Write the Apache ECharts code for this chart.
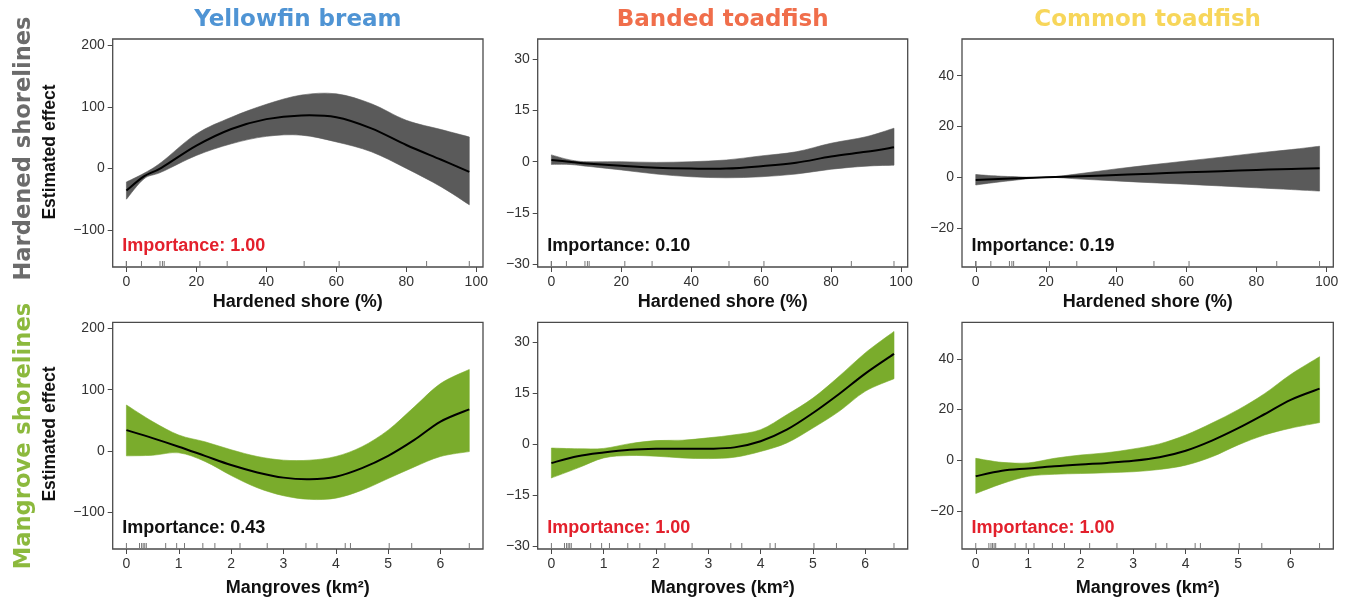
<!DOCTYPE html>
<html><head><meta charset="utf-8">
<script src="https://cdn.jsdelivr.net/npm/echarts@6/dist/echarts.min.js"></script>
<style>html,body{margin:0;padding:0;background:#fff}#c{width:1349px;height:599px}</style>
</head><body><div id="c"></div>
<script>
// ---------- DATA ----------
const species = ['Yellowfin bream', 'Banded toadfish', 'Common toadfish'];
const rowLabels = ['Hardened shorelines', 'Mangrove shorelines'];
const xTitles = ['Hardened shore (%)', 'Mangroves (km\u00B2)'];
const yTitle = 'Estimated effect';
const importance = [['Importance: 1.00', 'Importance: 0.10', 'Importance: 0.19'],
                    ['Importance: 0.43', 'Importance: 1.00', 'Importance: 1.00']];
const importanceRed = [[true, false, false], [false, true, true]];

const xTicksHard = [0, 20, 40, 60, 80, 100];
const xTicksMang = [0, 1, 2, 3, 4, 5, 6];
const yTicksCol = [[-100, 0, 100, 200], [-30, -15, 0, 15, 30], [-20, 0, 20, 40]];

const hardX = [0, 5, 10, 20, 30, 40, 50, 60, 70, 80, 90, 98];
const mangX = [0, 0.5, 1, 1.5, 2, 2.5, 3, 3.5, 4, 4.5, 5, 5.5, 6, 6.55];

// Hardened shore, Yellowfin bream
const hYbFit   = [-36, -13, 1, 37, 64, 80, 86, 83, 65, 38, 14, -5.5];
const hYbUpper = [-22, -8, 10, 56, 83, 104, 119, 121, 105, 78, 63, 51];
const hYbLower = [-50, -17, -6, 21, 40, 52, 54, 43, 27, 0, -30, -59];
// Hardened shore, Banded toadfish
const hBtFit   = [0.5, 0, -0.5, -1.2, -1.8, -2, -2, -1.3, -0.3, 1.5, 2.9, 4.2];
const hBtUpper = [2, 0.6, 0, 0, -0.2, 0, 0.5, 1.7, 2.9, 5.4, 7.3, 9.8];
const hBtLower = [-0.8, -0.8, -1.3, -2.4, -3.6, -4.4, -4.7, -4.4, -3.6, -2.2, -1.3, -1];
// Hardened shore, Common toadfish
const hCtFit   = [-0.9, -0.65, -0.4, 0.1, 0.5, 1.0, 1.5, 2.1, 2.5, 3.0, 3.4, 3.7];
const hCtUpper = [1.2, 0.7, 0.4, 0.1, 1.6, 3.4, 5.0, 6.5, 8.0, 9.6, 11.0, 12.3];
const hCtLower = [-2.9, -2.0, -1.2, 0.1, -0.6, -1.3, -2.0, -2.6, -3.3, -4.0, -4.7, -5.3];
// Mangroves, Yellowfin bream
const mYbFit   = [34, 21, 7, -8, -23, -35, -43.5, -46, -42, -28, -8, 18, 48, 68];
const mYbUpper = [75, 48, 26, 15, 2, -9, -15, -15, -9, 7, 34, 72, 110, 133];
const mYbLower = [-8, -7, -3, -17, -40, -60, -73, -79, -77, -64, -45, -26, -9, -1];
// Mangroves, Banded toadfish
const mBtFit   = [-5.5, -3.5, -2.4, -1.6, -1.3, -1.3, -1.3, -0.9, 0.9, 4.3, 9.2, 14.8, 20.8, 26.6];
const mBtUpper = [-1.1, -1.3, -1.2, 0.2, 1.1, 1.2, 1.9, 2.8, 4.3, 8.7, 13.6, 20, 26.9, 33.2];
const mBtLower = [-9.9, -7, -4, -3.3, -3.5, -4, -4.2, -3.8, -2.1, 0.4, 4.8, 9.7, 15.6, 19.3];
// Mangroves, Common toadfish
const mCtFit   = [-6.4, -4.2, -3.3, -2.4, -1.7, -1.1, -0.3, 1.1, 3.7, 7.7, 12.6, 18.1, 23.8, 28.2];
const mCtUpper = [0.7, -0.9, -1.1, 0.7, 2, 2.9, 4.4, 6.4, 9.9, 14.6, 19.9, 26.2, 33.8, 40.8];
const mCtLower = [-13.2, -9.3, -6.4, -5.6, -5.3, -5.0, -4.6, -3.7, -2.0, 1.3, 6.0, 9.9, 12.6, 14.8];

// rug (observed predictor values)
const rugHard = [0, 0, 0, 4.3, 9.6, 10.3, 10.8, 21, 28.8, 50.8, 60.8, 85.8, 98];
const rugMang = [0, 0.25, 0.29, 0.32, 0.35, 0.38, 0.75, 0.96, 1.11, 1.46, 1.69, 2.17, 2.69, 3.43, 3.64, 4.18, 4.28, 5.02, 5.45, 6.55];

// ---------- STYLE / LAYOUT ----------
const titleColors = ['#4f94d4', '#f06e4b', '#f7d65a'];
const rowColors = ['#6b6b6b', '#8cb93d'];
const bandColors = ['#5a5a5a', '#7aac2c'];
const redText = '#e3202c';
const colLeft = [112.7, 537.7, 962];
const colWidth = [370.3, 370, 371.3];
const rowTop = [39, 322.3];
const rowHeight = [228, 226.7];
const xRange = [[-3.92, 101.92], [-0.262, 6.812]];
const yRange = [[-160, 210], [-30.8, 35.9], [-35.1, 54.4]];
const font = 'Liberation Sans, Arial, Helvetica, sans-serif';
const boxColor = '#4a4a4a';

const panels = [
  [[hardX, hYbFit, hYbUpper, hYbLower], [hardX, hBtFit, hBtUpper, hBtLower], [hardX, hCtFit, hCtUpper, hCtLower]],
  [[mangX, mYbFit, mYbUpper, mYbLower], [mangX, mBtFit, mBtUpper, mBtLower], [mangX, mCtFit, mCtUpper, mCtLower]]
];
const rugs = [rugHard, rugMang];
const xTicks = [xTicksHard, xTicksMang];
const minus = v => String(v).replace('-', '\u2212');

// Catmull-Rom smoothing of pixel points into cubic bezier path commands
function curveSegs(pts) {
  let d = '';
  const n = pts.length;
  for (let i = 0; i < n - 1; i++) {
    const p0 = pts[Math.max(i - 1, 0)], p1 = pts[i], p2 = pts[i + 1], p3 = pts[Math.min(i + 2, n - 1)];
    const c1 = [p1[0] + (p2[0] - p0[0]) / 6, p1[1] + (p2[1] - p0[1]) / 6];
    const c2 = [p2[0] - (p3[0] - p1[0]) / 6, p2[1] - (p3[1] - p1[1]) / 6];
    d += ' C' + c1[0] + ' ' + c1[1] + ' ' + c2[0] + ' ' + c2[1] + ' ' + p2[0] + ' ' + p2[1];
  }
  return d;
}

const grid = [], xAxis = [], yAxis = [], series = [], graphic = [];
let idx = 0;
for (let r = 0; r < 2; r++) {
  for (let c = 0; c < 3; c++) {
    grid.push({left: colLeft[c], top: rowTop[r], width: colWidth[c], height: rowHeight[r],
      show: true, borderColor: boxColor, borderWidth: 1.3, backgroundColor: 'transparent'});
    xAxis.push({type: 'value', gridIndex: idx, min: xRange[r][0], max: xRange[r][1],
      axisLine: {show: false, onZero: false}, splitLine: {show: false},
      axisTick: {show: true, customValues: xTicks[r], length: 5, lineStyle: {color: boxColor, width: 1}},
      axisLabel: {customValues: xTicks[r], margin: 8, color: '#333', fontSize: 14, fontFamily: font, formatter: minus},
      name: xTitles[r], nameLocation: 'middle', nameGap: r === 0 ? 26 : 30,
      nameTextStyle: {fontSize: 18, fontWeight: 'bold', color: '#111', fontFamily: font}});
    yAxis.push({type: 'value', gridIndex: idx, min: yRange[c][0], max: yRange[c][1],
      axisLine: {show: false, onZero: false}, splitLine: {show: false},
      axisTick: {show: true, customValues: yTicksCol[c], length: 5, lineStyle: {color: boxColor, width: 1}},
      axisLabel: {customValues: yTicksCol[c], margin: 8, color: '#333', fontSize: 14, fontFamily: font, formatter: minus}});
    const [xs, fit, up, lo] = panels[r][c];
    const bandColor = bandColors[r];
    series.push({type: 'custom', xAxisIndex: idx, yAxisIndex: idx, data: [[xs[0], fit[0]]],
      silent: true, animation: false, z: 3, clip: true,
      renderItem: (params, api) => {
        const upPts = xs.map((x, i) => api.coord([x, up[i]]));
        const loPts = xs.map((x, i) => api.coord([x, lo[i]])).reverse();
        const fitPts = xs.map((x, i) => api.coord([x, fit[i]]));
        const band = 'M' + upPts[0][0] + ' ' + upPts[0][1] + curveSegs(upPts) +
          ' L' + loPts[0][0] + ' ' + loPts[0][1] + curveSegs(loPts) + ' Z';
        const line = 'M' + fitPts[0][0] + ' ' + fitPts[0][1] + curveSegs(fitPts);
        return {type: 'group', children: [
          {type: 'path', shape: {pathData: band}, style: {fill: bandColor, stroke: bandColor, lineWidth: 0.6}},
          {type: 'path', shape: {pathData: line}, style: {fill: null, stroke: '#000', lineWidth: 2}}
        ]};
      }});
    series.push({type: 'custom', xAxisIndex: idx, yAxisIndex: idx, data: rugs[r].map(v => [v, 0]),
      silent: true, animation: false, z: 6,
      renderItem: (params, api) => {
        const px = api.coord([api.value(0), api.value(1)])[0];
        const bottom = params.coordSys.y + params.coordSys.height;
        return {type: 'line', shape: {x1: px, y1: bottom, x2: px, y2: bottom - 6},
          style: {stroke: '#777', lineWidth: 1}};
      }});
    graphic.push({type: 'text', left: colLeft[c] + 9.5, top: rowTop[r] + rowHeight[r] - 30,
      style: {text: importance[r][c], fill: importanceRed[r][c] ? redText : '#111',
        font: 'bold 18px ' + font}});
    idx++;
  }
}
for (let c = 0; c < 3; c++) {
  graphic.push({type: 'text', x: colLeft[c] + colWidth[c] / 2, y: 20,
    style: {text: species[c], fill: titleColors[c], font: 'bold 23px DejaVu Sans, sans-serif',
      textAlign: 'center', textVerticalAlign: 'middle'}});
}
const rowCenters = [148.5, 436];
const yTitleCenters = [152, 434];
for (let r = 0; r < 2; r++) {
  graphic.push({type: 'text', x: 24, y: rowCenters[r], rotation: Math.PI / 2,
    style: {text: rowLabels[r], fill: rowColors[r], font: 'bold 22.6px DejaVu Sans, sans-serif',
      textAlign: 'center', textVerticalAlign: 'middle'}});
  graphic.push({type: 'text', x: 50, y: yTitleCenters[r], rotation: Math.PI / 2,
    style: {text: yTitle, fill: '#111', font: 'bold 17.5px ' + font,
      textAlign: 'center', textVerticalAlign: 'middle'}});
}

const chart = echarts.init(document.getElementById('c'), null, {renderer: 'canvas'});
chart.setOption({animation: false, backgroundColor: '#fff', grid, xAxis, yAxis, series, graphic});
</script>
</body></html>
